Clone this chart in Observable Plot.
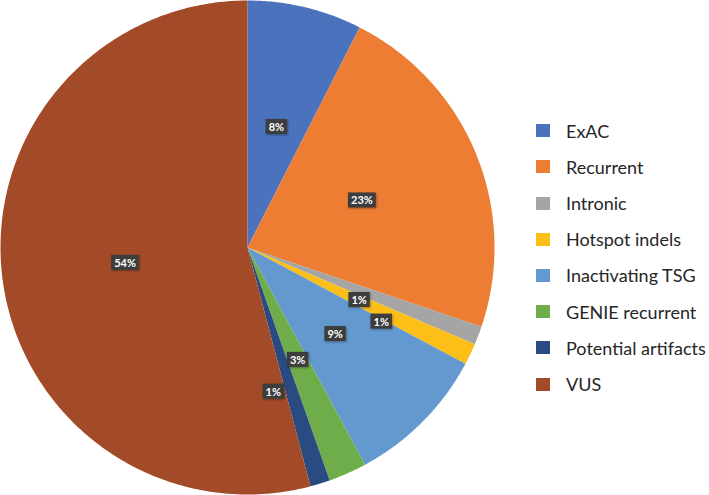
<!DOCTYPE html>
<html>
<head>
<meta charset="utf-8">
<script src="https://cdn.jsdelivr.net/npm/d3@7"></script>
<script src="https://cdn.jsdelivr.net/npm/@observablehq/plot@0.6"></script>
<style>
  html, body { margin: 0; padding: 0; background: #fff; }
  #chart { position: relative; width: 709px; height: 495px; overflow: hidden; }
  #chart svg { position: absolute; left: 0; top: 0; }
  .item { position: absolute; left: 536px; height: 22px; display: flex; align-items: center;
          font-family: Lato, "Open Sans", sans-serif; font-size: 18px; color: #262626; white-space: nowrap; }
  .sw { width: 14px; height: 13px; margin-right: 16px; flex: none; }
</style>
</head>
<body>
<div id="chart"></div>
<script>
// ---- data ----
const categories = ["ExAC", "Recurrent", "Intronic", "Hotspot indels", "Inactivating TSG", "GENIE recurrent", "Potential artifacts", "VUS"];
const values = [7.5, 22.7, 1.2, 1.4, 9.3, 2.5, 1.3, 54.1];
const colors = ["#4a72bd", "#ed7d33", "#a5a5a5", "#fbbf18", "#6399cf", "#6fad4a", "#2a4a82", "#a34b28"];

// label placement tweaks (radius fraction, angle shift in degrees) for crowded small slices
const labelLayout = {
  "Intronic": [0.5, 4.5],
  "Hotspot indels": [0.62, 3.6],
  "Potential artifacts": [0.595, 7]
};

// ---- build slices ----
const arcs = d3.pie().sort(null).startAngle(0).endAngle(2 * Math.PI)(values);
const toXY = (a, r) => [r * Math.sin(a), -r * Math.cos(a)];
const slices = arcs.map((a, i) => {
  const ring = [[0, 0]];
  const n = Math.max(2, Math.ceil((a.endAngle - a.startAngle) / (Math.PI / 360)));
  for (let k = 0; k <= n; k++) ring.push(toXY(a.startAngle + (a.endAngle - a.startAngle) * k / n, 1));
  ring.push([0, 0]);
  return {type: "Feature", properties: {name: categories[i]}, geometry: {type: "Polygon", coordinates: [ring]}};
});
const labels = arcs.map((a, i) => {
  const [rf, shift] = labelLayout[categories[i]] || [0.5, 0];
  const mid = (a.startAngle + a.endAngle) / 2 + shift * Math.PI / 180;
  const [x, y] = toXY(mid, rf);
  return {x, y, text: Math.round(values[i]) + "%"};
});

const plot = Plot.plot({
  width: 709,
  height: 495,
  marginLeft: 0,
  marginTop: 0,
  marginRight: 215,
  marginBottom: 1,
  projection: {type: "identity", domain: {type: "MultiPoint", coordinates: [[-1, -1], [1, 1]]}},
  color: {domain: categories, range: colors},
  marks: [
    Plot.geo(slices, {fill: d => d.properties.name, stroke: "none"}),
    Plot.text(labels, {x: "x", y: "y", text: "text", fill: "white", fontWeight: "bold", fontSize: 11, fontFamily: "Lato, sans-serif"})
  ]
});

const chart = document.getElementById("chart");
chart.append(plot);

// dark label boxes behind percentage text
const ns = "http://www.w3.org/2000/svg";
const defs = document.createElementNS(ns, "defs");
defs.innerHTML = '<filter id="sh" x="-30%" y="-30%" width="160%" height="170%"><feDropShadow dx="0.8" dy="1" stdDeviation="0.8" flood-color="#000" flood-opacity="0.35"/></filter>';
plot.prepend(defs);
const tg = plot.querySelector('g[aria-label="text"]');
if (tg) {
  tg.querySelectorAll("text").forEach(t => {
    const b = t.getBBox();
    const r = document.createElementNS(ns, "rect");
    r.setAttribute("x", b.x - 3);
    r.setAttribute("y", b.y + b.height / 2 - 7.5);
    r.setAttribute("width", b.width + 6);
    r.setAttribute("height", 15);
    r.setAttribute("fill", "#3c3c3c");
    r.setAttribute("filter", "url(#sh)");
    if (t.getAttribute("transform")) r.setAttribute("transform", t.getAttribute("transform"));
    t.parentNode.insertBefore(r, t);
  });
}

// legend
categories.forEach((c, i) => {
  const item = document.createElement("div");
  item.className = "item";
  item.style.top = (130.6 + i * 36.2 - 11) + "px";
  const sw = document.createElement("span");
  sw.className = "sw";
  sw.style.background = colors[i];
  const tx = document.createElement("span");
  tx.textContent = c;
  item.append(sw, tx);
  chart.append(item);
});
</script>
</body>
</html>
